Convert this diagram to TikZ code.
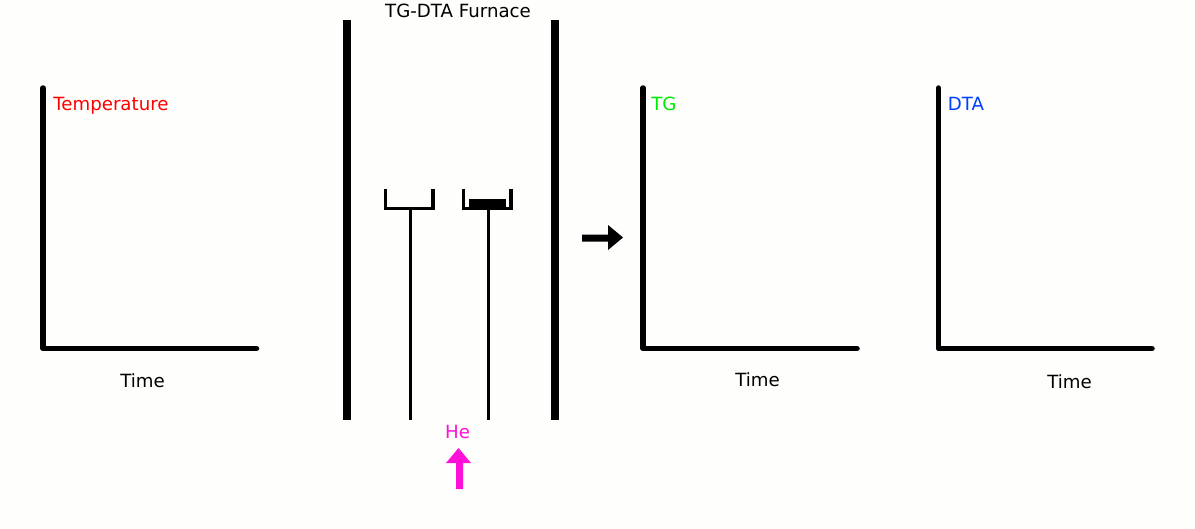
\documentclass[tikz,border=0pt]{standalone}
\usepackage{fontspec}
\setmainfont{DejaVu Sans}
\definecolor{paper}{RGB}{254,254,252}
\definecolor{hepink}{RGB}{255,16,216}
\definecolor{tggreen}{RGB}{0,235,0}
\definecolor{dtablue}{RGB}{0,64,255}
\tikzset{
	axisline/.style={line width=0.11cm, line cap=round, line join=round},
	wall/.style={line width=0.16cm},
	holder/.style={line width=0.064cm},
	label/.style={inner sep=0pt, font=\fontsize{10.35}{12}\selectfont},
}

\begin{document}
\begin{tikzpicture}[x=0.02cm, y=-0.02cm]
		%%%%% START %%%%%
		\fill[paper] (0, 0) rectangle (1195, 528);
		\useasboundingbox (0, 0) rectangle (1195, 528);
		
		% left plot
		\draw[axisline] (43, 88) -- (43, 348.5) -- (256.5, 348.5);
		\node[label, color=red, anchor=west] (temperature) at (53, 105.5) {Temperature};
		\node[label] (timea) at (142.5, 381) {Time};
		
		% furnace
		\draw[wall] (347, 20) -- (347, 420);
		\draw[wall] (555, 20) -- (555, 420);
		\node[label] (furnace) at (458, 11) {TG-DTA Furnace};
		
		% holders
		\draw[holder] (385.5, 189) -- (385.5, 208.5) -- (433, 208.5) -- (433, 189);
		\draw[holder] (410.7, 209) -- (410.7, 420);
		\draw[holder] (463.5, 189) -- (463.5, 208.5) -- (511, 208.5) -- (511, 189);
		\draw[holder] (488.7, 209) -- (488.7, 420);
		\fill (469, 199) rectangle (506, 207);
		
		% arrows
		\fill (582, 234.5) -- (608, 234.5) -- (608, 225) -- (623, 237.5) -- (608, 250) -- (608, 241.5) -- (582, 241.5) -- cycle;
		\fill[hepink] (456, 489) -- (456, 463) -- (446, 463) -- (458.5, 448) -- (471, 463) -- (463, 463) -- (463, 489) -- cycle;
		\node[label, color=hepink] (he) at (457.5, 432) {He};
		
		% right plots
		\draw[axisline] (643, 88) -- (643, 348.5) -- (857, 348.5);
		\node[label, color=tggreen, anchor=west] (tg) at (651, 104) {TG};
		\node[label] (timeb) at (757.5, 380) {Time};
		
		\draw[axisline] (938.5, 88) -- (938.5, 348.5) -- (1152, 348.5);
		\node[label, color=dtablue, anchor=west] (dta) at (947.5, 104) {DTA};
		\node[label] (timec) at (1069.5, 382) {Time};
		%%%%% END %%%%%
	\end{tikzpicture}
\end{document}
